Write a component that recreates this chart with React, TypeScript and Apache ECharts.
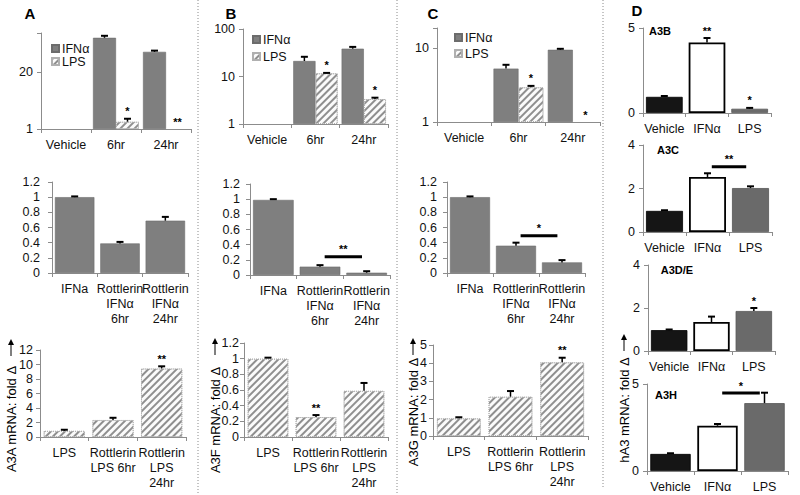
import React, { useEffect, useRef } from 'react';
import * as echarts from 'echarts';

const FONT = '"Liberation Sans", Arial, "DejaVu Sans", sans-serif';

// ---------- categories ----------
const topCats = ['Vehicle', '6hr', '24hr'];
const midCats = ['IFNa', 'Rottlerin\nIFNα\n6hr', 'Rottlerin\nIFNα\n24hr'];
const botCats = ['LPS', 'Rottlerin\nLPS 6hr', 'Rottlerin\nLPS\n24hr'];
const dCats = ['Vehicle', 'IFNα', 'LPS'];
const legendNames = ['IFNα', 'LPS'];

// ---------- Panel A (A3A) ----------
const aTopIFN = [1, 124, 59];
const aTopIFNErr = [null, 138, 63];
const aTopLPS = [1, 1.47, 1];
const aTopLPSErr = [null, 1.72, null];
const aTopLPSStars = ['', '*', '**'];
const aMid = [1.0, 0.39, 0.69];
const aMidErr = [1.01, 0.41, 0.74];
const aBot = [0.85, 2.35, 9.45];
const aBotErr = [1.0, 2.65, 9.75];
const aBotStars = ['', '', '**'];

// ---------- Panel B (A3F) ----------
const bTopIFN = [1, 21.2, 38.5];
const bTopIFNErr = [null, 26, 42];
const bTopLPS = [1, 11.7, 3.36];
const bTopLPSErr = [null, 11.9, 3.58];
const bTopLPSStars = ['', '*', '*'];
const bMid = [0.99, 0.11, 0.03];
const bMidErr = [1.0, 0.13, 0.05];
const bMidSig = { from: 1, to: 2, y: 0.24, text: '**' };
const bBot = [1.0, 0.255, 0.59];
const bBotErr = [1.0, 0.28, 0.69];
const bBotStars = ['', '**', ''];

// ---------- Panel C (A3G) ----------
const cTopIFN = [1, 5.33, 9.6];
const cTopIFNErr = [null, 6.0, 9.9];
const cTopLPS = [1, 2.97, 1];
const cTopLPSErr = [null, 3.1, null];
const cTopLPSStars = ['', '*', '*'];
const cMid = [1.0, 0.36, 0.14];
const cMidErr = [1.01, 0.4, 0.17];
const cMidSig = { from: 1, to: 2, y: 0.49, text: '*' };
const cBot = [0.97, 2.16, 4.05];
const cBotErr = [1.03, 2.47, 4.3];
const cBotStars = ['', '', '**'];

// ---------- Panel D ----------
const a3b = [0.95, 4.15, 0.25];
const a3bErr = [1.0, 4.41, 0.3];
const a3bStars = ['', '**', '*'];
const a3c = [0.97, 2.53, 2.02];
const a3cErr = [1.0, 2.7, 2.1];
const a3cSig = { from: 1, to: 2, y: 3.0, text: '**' };
const a3de = [0.97, 1.35, 1.86];
const a3deErr = [1.0, 1.6, 2.0];
const a3deStars = ['', '', '*'];
const a3h = [0.98, 2.6, 3.9];
const a3hErr = [1.02, 2.7, 4.5];
const a3hSig = { from: 1, to: 2, y: 4.48, text: '*' };

// ---------- axis titles ----------
const yTitles = ['A3A mRNA: fold Δ', 'A3F mRNA: fold Δ', 'A3G mRNA: fold Δ', 'hA3 mRNA: fold Δ'];

// ---------- styles ----------
const axisColor = '#8c8c8c';
const greyStyle = { color: '#7f7f7f', borderColor: '#6c6c6c', borderWidth: 0.6 };
const hatchStyle = {
  color: '#fbfbfb',
  borderColor: '#b0b0b0',
  borderWidth: 1,
  borderType: 'dotted',
  decal: {
    symbol: 'rect',
    symbolSize: 1,
    dashArrayX: [1, 0],
    dashArrayY: [1.4, 2.6],
    rotation: -Math.PI / 4,
    color: '#8f8f8f',
  },
};
const dStyles = [
  { color: '#151515', borderColor: '#000', borderWidth: 0.8 },
  { color: '#ffffff', borderColor: '#000', borderWidth: 1.8 },
  { color: '#6a6a6a', borderColor: '#555', borderWidth: 0.8 },
];

const grids = [
  { left: 41, top: 33, width: 150, height: 96 }, // 0 A top
  { left: 243, top: 29, width: 145, height: 95 }, // 1 B top
  { left: 437, top: 28, width: 163, height: 94 }, // 2 C top
  { left: 52, top: 182, width: 136, height: 91 }, // 3 A mid
  { left: 250, top: 184, width: 140, height: 91 }, // 4 B mid
  { left: 447, top: 182, width: 138, height: 91 }, // 5 C mid
  { left: 40, top: 350, width: 146, height: 87 }, // 6 A bot
  { left: 244, top: 343, width: 144, height: 94 }, // 7 B bot
  { left: 433, top: 345, width: 155, height: 91 }, // 8 C bot
  { left: 643, top: 28, width: 128, height: 85 }, // 9 A3B
  { left: 643, top: 145, width: 129, height: 87 }, // 10 A3C
  { left: 648, top: 265, width: 127, height: 86 }, // 11 A3D/E
  { left: 647, top: 384, width: 141, height: 87 }, // 12 A3H
];

function xAx(gi: number, cats: string[], margin = 8) {
  return {
    type: 'category',
    gridIndex: gi,
    data: cats,
    axisLine: { show: true, lineStyle: { color: axisColor, width: 1 } },
    axisTick: { show: true, length: 4, lineStyle: { color: axisColor } },
    axisLabel: { interval: 0, color: '#111', fontSize: 12.5, fontFamily: FONT, margin, lineHeight: 15 },
    splitLine: { show: false },
  };
}

function yAx(gi: number, extra: any, labelExtra: any = {}) {
  return {
    gridIndex: gi,
    axisLine: { show: true, lineStyle: { color: axisColor } },
    axisTick: { show: true, length: 4, lineStyle: { color: axisColor } },
    splitLine: { show: false },
    axisLabel: { color: '#111', fontSize: 12.5, fontFamily: FONT, margin: 8, ...labelExtra },
    ...extra,
  };
}

// bars on a log axis that sit exactly at the baseline (value 1) are drawn invisible
function barSeries(gi: number, vals: number[], style: any, gap: string, name?: string, logBase = false) {
  return {
    type: 'bar',
    name,
    xAxisIndex: gi,
    yAxisIndex: gi,
    data: vals.map((v) => (logBase && v <= 1 ? { value: v, itemStyle: { borderWidth: 0, opacity: 0 } } : v)),
    itemStyle: style,
    barGap: '0%',
    barCategoryGap: gap,
    z: 2,
  };
}

const markText = (text: string, x: number, y: number) => ({
  type: 'text',
  x,
  y,
  style: { text, align: 'center', verticalAlign: 'bottom', fontSize: 11, fontWeight: 'bold', fontFamily: FONT, fill: '#000' },
});

function errSeries(gi: number, vals: number[], errs: (number | null)[], stars: string[] | null, off = 0) {
  return {
    type: 'custom',
    coordinateSystem: 'cartesian2d',
    xAxisIndex: gi,
    yAxisIndex: gi,
    z: 5,
    silent: true,
    itemStyle: { color: '#000' },
    encode: { x: 0, y: 1 },
    data: vals.map((v, i) => [i, errs[i] ?? v, v]),
    renderItem: (params: any, api: any) => {
      const i = params.dataIndex;
      const bw = params.coordSys.width / vals.length;
      const base = api.coord([i, vals[i]]);
      const cx = base[0] + off * bw;
      const children: any[] = [];
      let anchor = base[1];
      const e = errs[i];
      if (e != null && e !== vals[i]) {
        const yt = api.coord([i, e])[1];
        children.push({ type: 'line', shape: { x1: cx, y1: base[1], x2: cx, y2: yt }, style: { stroke: '#000', lineWidth: 1.5 } });
        children.push({ type: 'line', shape: { x1: cx - 3.5, y1: yt, x2: cx + 3.5, y2: yt }, style: { stroke: '#000', lineWidth: 2 } });
        anchor = yt;
      } else if (e != null) {
        children.push({ type: 'line', shape: { x1: cx - 3.5, y1: base[1] - 1, x2: cx + 3.5, y2: base[1] - 1 }, style: { stroke: '#000', lineWidth: 2 } });
      }
      const s = stars ? stars[i] : '';
      if (s) children.push(markText(s, cx, anchor - 2));
      return { type: 'group', children };
    },
  };
}

function sigSeries(gi: number, sig: { from: number; to: number; y: number; text: string }, nCats = 3) {
  return {
    type: 'custom',
    coordinateSystem: 'cartesian2d',
    xAxisIndex: gi,
    yAxisIndex: gi,
    z: 6,
    silent: true,
    itemStyle: { color: '#000' },
    encode: { x: 0, y: 1 },
    data: [[sig.from, sig.y]],
    renderItem: (params: any, api: any) => {
      const bw = params.coordSys.width / nCats;
      const p1 = api.coord([sig.from, sig.y]);
      const p2 = api.coord([sig.to, sig.y]);
      const x1 = p1[0] + 0.1 * bw;
      const x2 = p2[0] - 0.1 * bw;
      return {
        type: 'group',
        children: [
          { type: 'line', shape: { x1, y1: p1[1], x2, y2: p1[1] }, style: { stroke: '#000', lineWidth: 3 } },
          markText(sig.text, (x1 + x2) / 2, p1[1] - 2),
        ],
      };
    },
  };
}

function dBars(gi: number, vals: number[]) {
  return {
    type: 'bar',
    xAxisIndex: gi,
    yAxisIndex: gi,
    barCategoryGap: '14%',
    data: vals.map((v, i) => ({ value: v, itemStyle: dStyles[i] })),
    z: 2,
  };
}

const topOff = (1 - 0.08) / 4;

function txt(text: string, x: number, y: number, fontSize: number, bold = false, rotation = 0) {
  return {
    type: 'text',
    x,
    y,
    rotation,
    silent: true,
    style: {
      text,
      fontSize,
      fontWeight: bold ? 'bold' : 'normal',
      fontFamily: FONT,
      fill: '#000',
      align: 'center',
      verticalAlign: 'middle',
    },
  };
}

// rotated axis title followed by an upward arrow
function yTitle(text: string, x: number, cy: number, arrowBottom: number) {
  return {
    type: 'group',
    silent: true,
    children: [
      txt(text, x, cy, 13, false, Math.PI / 2),
      { type: 'line', shape: { x1: x, y1: arrowBottom, x2: x, y2: arrowBottom - 12 }, style: { stroke: '#000', lineWidth: 1 } },
      { type: 'polygon', shape: { points: [[x - 3, arrowBottom - 11], [x + 3, arrowBottom - 11], [x, arrowBottom - 17]] }, style: { fill: '#000' } },
    ],
  };
}

function sep(x: number, y2: number) {
  return {
    type: 'line',
    silent: true,
    shape: { x1: x, y1: 0, x2: x, y2 },
    style: { stroke: '#8a8a8a', lineWidth: 1, lineDash: [1, 2] },
  };
}

const keepLog = (allowed: number[]) => (v: number) =>
  allowed.some((a) => Math.abs(v - a) < 1e-6 * a) ? String(Math.round(v)) : '';

function legend(left: number, top: number, gap: number) {
  return {
    left,
    top,
    orient: 'vertical',
    itemGap: gap,
    itemWidth: 7,
    itemHeight: 7,
    icon: 'rect',
    selectedMode: false,
    data: legendNames,
    textStyle: { fontSize: 12.5, fontFamily: FONT, color: '#111', padding: [0, 0, 0, -2] },
  };
}

export default function App() {
  const ref = useRef<HTMLDivElement>(null);
  useEffect(() => {
    document.body.style.margin = '0';
    const chart = echarts.init(ref.current!, undefined, { renderer: 'svg' });
    const option: any = {
      animation: false,
      backgroundColor: '#ffffff',
      grid: grids.map((g) => ({ ...g, containLabel: false })),
      legend: [legend(46, 37, 0), legend(247, 28, 4), legend(449, 26, 3)],
      xAxis: [
        xAx(0, topCats),
        xAx(1, topCats),
        xAx(2, topCats),
        xAx(3, midCats, 8),
        xAx(4, midCats, 8),
        xAx(5, midCats, 8),
        xAx(6, botCats, 8),
        xAx(7, botCats, 8),
        xAx(8, botCats, 8),
        xAx(9, dCats),
        xAx(10, dCats),
        xAx(11, dCats),
        xAx(12, dCats),
      ],
      yAxis: [
        yAx(0, { type: 'log', logBase: 20, min: 1, max: 160 }, { formatter: keepLog([1, 20]) }),
        yAx(1, { type: 'log', logBase: 10, min: 1, max: 100 }, { formatter: keepLog([1, 10, 100]) }),
        yAx(2, { type: 'log', logBase: 10, min: 1, max: 19 }, { formatter: keepLog([1, 10]) }),
        yAx(3, { type: 'value', min: 0, max: 1.2, interval: 0.2 }, { margin: 12 }),
        yAx(4, { type: 'value', min: 0, max: 1.2, interval: 0.2 }, { margin: 10 }),
        yAx(5, { type: 'value', min: 0, max: 1.2, interval: 0.2 }, { margin: 10 }),
        yAx(6, { type: 'value', min: 0, max: 12, interval: 2 }, { margin: 7 }),
        yAx(7, { type: 'value', min: 0, max: 1.2, interval: 0.2 }, { margin: 5 }),
        yAx(8, { type: 'value', min: 0, max: 5, interval: 1 }, { margin: 6 }),
        yAx(9, { type: 'value', min: 0, max: 5, interval: 5 }),
        yAx(10, { type: 'value', min: 0, max: 4, interval: 2 }),
        yAx(11, { type: 'value', min: 0, max: 4, interval: 2 }),
        yAx(12, { type: 'value', min: 0, max: 5, interval: 5 }),
      ],
      series: [
        // A top
        barSeries(0, aTopIFN, greyStyle, '8%', 'IFNα', true),
        barSeries(0, aTopLPS, hatchStyle, '8%', 'LPS', true),
        errSeries(0, aTopIFN, aTopIFNErr, null, -topOff),
        errSeries(0, aTopLPS, aTopLPSErr, aTopLPSStars, topOff),
        // B top
        barSeries(1, bTopIFN, greyStyle, '8%', 'IFNα', true),
        barSeries(1, bTopLPS, hatchStyle, '8%', 'LPS', true),
        errSeries(1, bTopIFN, bTopIFNErr, null, -topOff),
        errSeries(1, bTopLPS, bTopLPSErr, bTopLPSStars, topOff),
        // C top
        barSeries(2, cTopIFN, greyStyle, '8%', 'IFNα', true),
        barSeries(2, cTopLPS, hatchStyle, '8%', 'LPS', true),
        errSeries(2, cTopIFN, cTopIFNErr, null, -topOff),
        errSeries(2, cTopLPS, cTopLPSErr, cTopLPSStars, topOff),
        // middle row
        barSeries(3, aMid, greyStyle, '13%'),
        errSeries(3, aMid, aMidErr, null),
        barSeries(4, bMid, greyStyle, '13%'),
        errSeries(4, bMid, bMidErr, null),
        sigSeries(4, bMidSig),
        barSeries(5, cMid, greyStyle, '13%'),
        errSeries(5, cMid, cMidErr, null),
        sigSeries(5, cMidSig),
        // bottom row
        barSeries(6, aBot, hatchStyle, '15%'),
        errSeries(6, aBot, aBotErr, aBotStars),
        barSeries(7, bBot, hatchStyle, '15%'),
        errSeries(7, bBot, bBotErr, bBotStars),
        barSeries(8, cBot, hatchStyle, '15%'),
        errSeries(8, cBot, cBotErr, cBotStars),
        // D
        dBars(9, a3b),
        errSeries(9, a3b, a3bErr, a3bStars),
        dBars(10, a3c),
        errSeries(10, a3c, a3cErr, null),
        sigSeries(10, a3cSig),
        dBars(11, a3de),
        errSeries(11, a3de, a3deErr, a3deStars),
        dBars(12, a3h),
        errSeries(12, a3h, a3hErr, null),
        sigSeries(12, a3hSig),
      ],
      graphic: [
        sep(198, 495),
        sep(397, 495),
        sep(603, 487),
        txt('A', 30, 13, 15, true),
        txt('B', 231, 13, 15, true),
        txt('C', 433, 13, 15, true),
        txt('D', 637, 10, 15, true),
        txt('A3B', 660, 31, 11, true),
        txt('A3C', 668, 150, 11, true),
        txt('A3D/E', 677, 270, 11, true),
        txt('A3H', 666, 395, 11, true),
        yTitle(yTitles[0], 11, 419, 356),
        yTitle(yTitles[1], 215, 420, 355),
        yTitle(yTitles[2], 413, 412, 355),
        yTitle(yTitles[3], 624, 410, 351),
      ],
    };
    chart.setOption(option);
    return () => chart.dispose();
  }, []);
  return <div ref={ref} style={{ position: 'absolute', left: 0, top: 0, width: 800, height: 495 }} />;
}
